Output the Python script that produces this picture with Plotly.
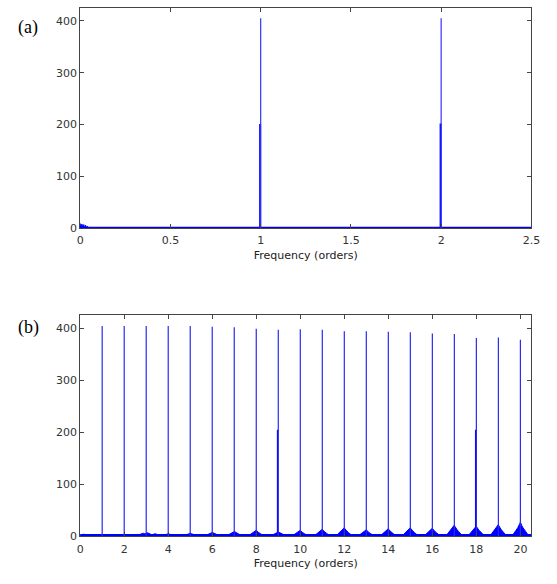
import plotly.graph_objects as go

# ---------------- data ----------------
# panel (a)
a_peak_orders = [1.0, 2.0]
a_peak_heights = [405, 405]
a_side_orders = [0.997, 1.997]
a_side_heights = [201, 202]
a_low_freq = [0.0, 0.005, 0.01, 0.015, 0.02, 0.025, 0.03, 0.035, 0.04, 0.05, 0.07, 0.1, 0.13, 0.16, 0.2, 1.95, 2.04, 2.06]
a_low_amp = [9, 6, 8, 5, 7, 3, 6, 2, 4, 2, 1.5, 1.5, 1.5, 1.5, 1.5, 1.5, 1.5, 1.5]
a_xmax = 2.5

# panel (b)
b_peak_orders = list(range(1, 21))
b_peak_heights = [404, 404, 404, 404, 404, 403, 402, 399, 397, 398,
                  397, 394, 394, 393, 392, 390, 389, 381, 382, 378]
b_side_orders = [8.97, 17.97]
b_side_heights = [205, 205]
b_bump_centers = [0.15, 1, 2, 2.85, 3.05, 3.4, 4, 5, 6, 7, 8, 9, 10, 11, 12,
                  13, 14, 15, 16, 17, 18, 19, 20]
b_bump_heights = [5, 2, 2, 7, 8, 6, 6, 7, 9, 11, 12, 10, 12, 14, 17,
                  13, 15, 17, 16, 22, 20, 23, 28]
b_xmax = 20.5

ytick_vals = [0, 100, 200, 300, 400]
a_xticks = [0, 0.5, 1, 1.5, 2, 2.5]
a_xtick_text = ["0", "0.5", "1", "1.5", "2", "2.5"]
b_xticks = list(range(0, 21, 2))

# bump shape profile (relative offsets / relative heights) - style only
bump_dx = [-1.0, -0.75, -0.5, -0.3, -0.15, -0.05, 0.0, 0.05, 0.15, 0.3, 0.5, 0.75, 1.0]
bump_dy = [0.0, 0.25, 0.42, 0.6, 0.75, 0.9, 1.0, 0.9, 0.75, 0.6, 0.42, 0.25, 0.0]

BLUE = "#0000ff"
SANS = "DejaVu Sans, Arial, sans-serif"


def stems(xs, hs):
    x, y = [], []
    for xv, hv in zip(xs, hs):
        x += [xv, xv, None]
        y += [0, hv, None]
    return x, y


def bumps(centers, heights, width):
    x, y = [], []
    for c, h in zip(centers, heights):
        for dx, dy in zip(bump_dx, bump_dy):
            x.append(c + dx * width)
            y.append(dy * h)
        x.append(None)
        y.append(None)
    return x, y


fig = go.Figure()

# ---- panel (a)
bx, by = bumps(a_low_freq, a_low_amp, 0.006)
fig.add_trace(go.Scatter(x=bx, y=by, mode="lines", fill="toself", fillcolor=BLUE,
                         line=dict(color=BLUE, width=1), xaxis="x", yaxis="y", hoverinfo="skip"))
fig.add_trace(go.Scatter(x=[0, a_xmax], y=[0.8, 0.8], mode="lines",
                         line=dict(color=BLUE, width=2), xaxis="x", yaxis="y"))
sx, sy = stems(a_side_orders, a_side_heights)
fig.add_trace(go.Scatter(x=sx, y=sy, mode="lines", line=dict(color=BLUE, width=2),
                         xaxis="x", yaxis="y"))
sx, sy = stems(a_peak_orders, a_peak_heights)
fig.add_trace(go.Scatter(x=sx, y=sy, mode="lines", line=dict(color="#3333ff", width=1.2),
                         xaxis="x", yaxis="y"))

# ---- panel (b)
bx, by = bumps(b_bump_centers, b_bump_heights, 0.4)
fig.add_trace(go.Scatter(x=bx, y=by, mode="lines", fill="toself", fillcolor=BLUE,
                         line=dict(color=BLUE, width=1), xaxis="x2", yaxis="y2", hoverinfo="skip"))
fig.add_trace(go.Scatter(x=[0, b_xmax], y=[2, 2], mode="lines",
                         line=dict(color=BLUE, width=3), xaxis="x2", yaxis="y2"))
sx, sy = stems(b_side_orders, b_side_heights)
fig.add_trace(go.Scatter(x=sx, y=sy, mode="lines", line=dict(color=BLUE, width=1.5),
                         xaxis="x2", yaxis="y2"))
sx, sy = stems(b_peak_orders, b_peak_heights)
fig.add_trace(go.Scatter(x=sx, y=sy, mode="lines", line=dict(color="#2a2aee", width=1.2),
                         xaxis="x2", yaxis="y2"))

W, H = 557, 584
xdom = [78 / W, 540 / W]
ydom_a = [(H - 231) / H, (H - 8) / H]
ydom_b = [(H - 543) / H, (H - 319) / H]

tickfont = dict(family=SANS, size=11, color="#333333")
common_axis = dict(showline=True, linecolor="#444444", linewidth=1, mirror="allticks",
                   ticks="inside", ticklen=4, tickcolor="#444444", showgrid=False,
                   zeroline=False, tickfont=tickfont)
title_font = dict(family=SANS, size=11, color="#222222")

fig.update_layout(
    width=W, height=H, margin=dict(l=0, r=0, t=0, b=0),
    paper_bgcolor="white", plot_bgcolor="white", showlegend=False,
    xaxis=dict(domain=xdom, range=[0, a_xmax], anchor="y", tickvals=a_xticks,
               ticktext=a_xtick_text, ticklabelstandoff=2, **common_axis,
               title=dict(text="Frequency (orders)", standoff=4, font=title_font)),
    yaxis=dict(domain=ydom_a, range=[0, 425], anchor="x", tickvals=ytick_vals, **common_axis),
    xaxis2=dict(domain=xdom, range=[0, b_xmax], anchor="y2", tickvals=b_xticks,
                ticklabelstandoff=2, **common_axis,
                title=dict(text="Frequency (orders)", standoff=4, font=title_font)),
    yaxis2=dict(domain=ydom_b, range=[0, 425], anchor="x2", tickvals=ytick_vals, **common_axis),
    annotations=[
        dict(text="(a)", x=12 / W, y=(H - 28) / H, xref="paper", yref="paper",
             xanchor="left", yanchor="middle", showarrow=False,
             font=dict(family="Liberation Serif, Times New Roman, serif", size=18, color="black")),
        dict(text="(b)", x=12 / W, y=(H - 331) / H, xref="paper", yref="paper",
             xanchor="left", yanchor="middle", showarrow=False,
             font=dict(family="Liberation Serif, Times New Roman, serif", size=18, color="black")),
    ],
)

fig.write_html("out.html")
